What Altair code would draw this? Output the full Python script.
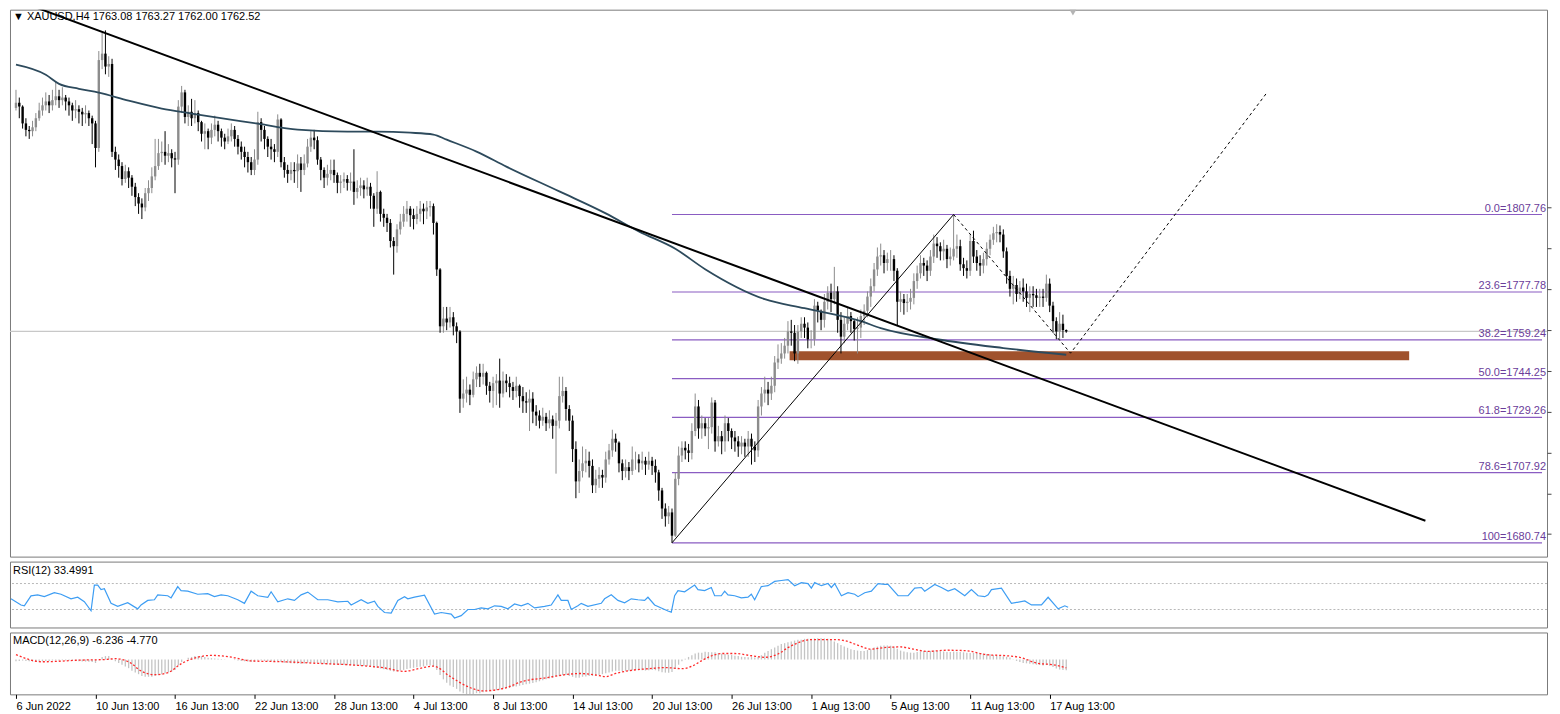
import json
import altair as alt
import pandas as pd

# ---------------- data (XAUUSD H4) ----------------
OPEN_FIRST = 1849.0
close = [
    1851, 1849.5, 1843, 1840.5, 1840, 1841.5, 1845, 1848, 1850, 1851.5,
    1850, 1852, 1853.5, 1852, 1853, 1851.5, 1850, 1848, 1848.5, 1847.5,
    1846.5, 1847, 1845, 1843, 1833.5, 1867.5, 1870, 1865, 1866, 1832,
    1829, 1826.5, 1821.5, 1824.5, 1822, 1818.5, 1814.5, 1812, 1810.5, 1816,
    1818, 1822.5, 1826.5, 1831.5, 1832, 1830.5, 1831.5, 1829.5, 1829, 1849.5,
    1855, 1845.5, 1847.5, 1845, 1847, 1843.5, 1839, 1840, 1837.5, 1840.5,
    1842.5, 1840, 1837.5, 1836, 1838, 1840.5, 1837, 1834, 1832, 1830,
    1828, 1825, 1829, 1843.5, 1840.5, 1837, 1834, 1833, 1832, 1844.5,
    1828, 1825, 1823.5, 1825, 1824.5, 1827.5, 1825, 1827.5, 1834, 1837.5,
    1836.5, 1829, 1825, 1822, 1823.5, 1825, 1823, 1820, 1820.5, 1821.5,
    1820, 1820.5, 1816.5, 1818, 1819, 1817.5, 1818.5, 1815, 1810, 1816.5,
    1808, 1806.5, 1804.5, 1797.5, 1795.5, 1802, 1805, 1808, 1810, 1807.5,
    1806, 1808, 1810, 1809, 1810.5, 1811, 1804.5, 1786.5, 1764.5, 1767.5,
    1766, 1768, 1764.5, 1762.5, 1736.5, 1738.5, 1740, 1738, 1744, 1746.5,
    1745, 1746.5, 1741.5, 1739.5, 1742.5, 1743.5, 1738.5, 1743.5, 1742.5, 1741,
    1739.5, 1741.5, 1737.5, 1735.5, 1735, 1736.5, 1731.5, 1730, 1728, 1729.5,
    1727, 1728.5, 1726, 1728, 1737.5, 1739.5, 1732.5, 1728, 1717, 1704.5,
    1708.5, 1711.5, 1712.5, 1710.5, 1703, 1705.5, 1707, 1706, 1713, 1716.5,
    1721, 1719.5, 1711.5, 1708.5, 1710, 1708.5, 1713, 1713, 1711.5, 1712.5,
    1711, 1712.5, 1710.5, 1708, 1701, 1694, 1691, 1692.5, 1683.5, 1705.5,
    1714.5, 1717.5, 1716.5, 1715.5, 1724, 1733.5, 1725, 1727, 1725, 1725.5,
    1735, 1720, 1722, 1720, 1727, 1724, 1721.5, 1720, 1718, 1719.5,
    1718, 1721, 1718, 1716.5, 1733.5, 1738.5, 1740, 1738.5, 1741.5, 1750.5,
    1752, 1754, 1757, 1762.5, 1762, 1754, 1762.5, 1765.5, 1764, 1759.5,
    1759.5, 1772.5, 1770.5, 1767, 1774, 1777.5, 1775, 1778, 1767, 1760.5,
    1765.5, 1768.5, 1766.5, 1763.5, 1764, 1768.5, 1770.5, 1776, 1780, 1786.5,
    1791.5, 1792, 1789, 1790.5, 1790.5, 1786, 1774, 1775, 1773.5, 1774,
    1775.5, 1782, 1785, 1789, 1788, 1786, 1791.5, 1796.5, 1795.5, 1793.5,
    1794.5, 1790.5, 1791.5, 1794.5, 1795.5, 1788.5, 1787, 1786, 1797.5, 1791.5,
    1789, 1788, 1790.5, 1794.5, 1798, 1800.5, 1801, 1800, 1793.5, 1784,
    1779, 1780.5, 1777, 1779.5, 1778, 1775.5, 1777, 1776.5, 1775.5, 1776,
    1775.5, 1781, 1772.5, 1766.5, 1762.5, 1765.5, 1763.08, 1762.52,
]
high = [
    1856, 1853, 1850, 1845, 1842, 1844, 1847, 1851, 1853, 1855,
    1854, 1856, 1859, 1856, 1857, 1854, 1853, 1851, 1852, 1850,
    1849, 1850, 1848, 1846, 1844, 1871, 1878, 1879, 1869, 1868,
    1834, 1831, 1828, 1827, 1826, 1823, 1820, 1816, 1814, 1818,
    1821, 1826, 1837, 1837, 1836, 1840, 1835, 1833, 1832, 1852,
    1857.5, 1856, 1850, 1852.5, 1852, 1848, 1844, 1843, 1841, 1843,
    1846, 1844, 1841, 1839, 1841, 1843, 1842, 1838.5, 1836, 1834,
    1832, 1830, 1833, 1847.5, 1845, 1842, 1838, 1837, 1835, 1846.5,
    1845, 1830, 1827, 1828, 1828, 1831, 1830, 1831, 1837, 1840,
    1840.5, 1838, 1830, 1826, 1827, 1829, 1829, 1824, 1823, 1824,
    1823, 1824, 1833, 1821, 1822, 1821, 1822, 1820, 1816, 1824.5,
    1817, 1810, 1808, 1806, 1799, 1804, 1808, 1811, 1813, 1811,
    1810, 1811, 1813, 1812, 1813, 1813, 1812, 1805, 1787, 1772,
    1772, 1772, 1770, 1766, 1763, 1744, 1745, 1742, 1747, 1749,
    1750, 1750, 1747, 1743, 1745, 1746, 1752, 1747, 1746, 1745,
    1743, 1745, 1742, 1741, 1739, 1740, 1739, 1734, 1732, 1733,
    1731, 1732, 1730, 1731, 1745, 1745, 1741, 1734, 1730, 1720,
    1713, 1718, 1717, 1716, 1713, 1709, 1710, 1709, 1716, 1719,
    1724.5, 1723, 1720, 1713, 1713, 1712, 1718, 1716, 1715, 1716,
    1714, 1716, 1714, 1713, 1709, 1702, 1696, 1695, 1694, 1708,
    1718, 1720, 1720, 1719, 1727, 1738.5, 1736, 1730, 1729, 1729,
    1737, 1736, 1726, 1724, 1730, 1729, 1725, 1724, 1722, 1722,
    1721, 1724, 1723, 1720, 1736, 1741, 1745, 1743, 1745, 1753,
    1757.5, 1758, 1760, 1766.5, 1767, 1765, 1765, 1768, 1768, 1766,
    1763, 1775, 1774, 1771, 1777, 1780, 1781, 1787.5, 1780, 1770,
    1768, 1772, 1770, 1767, 1768, 1771, 1773, 1778, 1783, 1789,
    1795, 1796.5, 1794, 1793, 1794, 1792, 1787, 1778, 1777, 1777,
    1779, 1785, 1788, 1792, 1791, 1790, 1794, 1800, 1799, 1797,
    1798, 1796, 1795, 1807.76, 1800, 1798, 1791, 1790, 1800, 1801.5,
    1794, 1792, 1793, 1797, 1800, 1803, 1804, 1803.5, 1802, 1795,
    1786, 1784, 1783, 1782, 1783, 1781, 1780, 1780, 1779, 1779,
    1779, 1784.5, 1783, 1774, 1768, 1770, 1769, 1763.27,
]
low = [
    1848, 1845, 1841, 1838, 1837, 1838, 1840, 1844, 1846, 1848,
    1847, 1848, 1850, 1849, 1850, 1848, 1846, 1844, 1845, 1843,
    1842, 1843, 1842, 1835, 1826, 1832, 1864, 1862, 1861, 1830,
    1825, 1822, 1819, 1820, 1818, 1815, 1811, 1808, 1806, 1809,
    1813, 1816, 1821, 1825, 1828, 1827, 1828, 1826, 1816, 1827,
    1847, 1843, 1842, 1842, 1843, 1840, 1836, 1833, 1833, 1835,
    1838, 1836, 1834, 1833, 1835, 1836, 1834, 1831, 1829, 1826,
    1824, 1823, 1823, 1827, 1836, 1833, 1830, 1829, 1828, 1830,
    1826, 1822, 1820, 1821, 1820, 1818, 1816.5, 1823, 1826, 1832,
    1833, 1827, 1821, 1818, 1819, 1821, 1820, 1816, 1816, 1818,
    1817, 1817, 1811.5, 1814, 1815, 1814, 1815, 1810, 1803, 1808,
    1805, 1803, 1801, 1795, 1784.5, 1793, 1800, 1803, 1805, 1803,
    1802, 1804, 1805, 1804, 1806, 1807, 1800, 1784, 1762, 1762,
    1763, 1764, 1761, 1758, 1731, 1733, 1735, 1734, 1737, 1741,
    1741, 1742, 1738, 1735, 1733, 1734, 1733, 1737, 1739, 1737,
    1736, 1737, 1733, 1731, 1731, 1724, 1727, 1726, 1725, 1726,
    1724, 1725, 1721, 1707.5, 1725, 1735, 1728, 1724, 1712, 1698,
    1700, 1706, 1708, 1706, 1700, 1700, 1702, 1702, 1704, 1711,
    1714, 1716, 1708, 1705, 1706, 1705, 1707, 1709, 1708, 1709,
    1707, 1709, 1707, 1704, 1697, 1690, 1687, 1688, 1680.74, 1683,
    1703, 1712, 1713, 1712, 1713, 1722, 1721, 1721, 1722, 1717,
    1723, 1716, 1718, 1715, 1716, 1720, 1717, 1716, 1714, 1715,
    1714, 1714, 1711, 1712, 1714, 1730, 1735, 1734, 1736, 1739,
    1748, 1750, 1752, 1754, 1757, 1751, 1750, 1760, 1760, 1756,
    1756, 1757, 1766, 1763, 1764, 1771, 1770, 1773, 1762, 1754,
    1758, 1763, 1762, 1759, 1754, 1760, 1765, 1768, 1772, 1778,
    1784, 1788, 1785, 1786, 1786, 1782, 1765, 1770, 1769, 1770,
    1771, 1773, 1779, 1783, 1784, 1782, 1784, 1789, 1791, 1790,
    1790, 1787, 1788, 1790, 1791, 1786, 1784, 1783, 1784, 1789,
    1786, 1784, 1785, 1788, 1792, 1796, 1797, 1797, 1791, 1781,
    1776, 1773, 1774, 1775, 1774, 1772, 1770, 1772, 1772, 1772,
    1772, 1774, 1770, 1762, 1759.5, 1759, 1760, 1762.0,
]
macd_main = [
    -1, -0.8, -0.6, -0.8, -1, -1.2, -1.3, -1.2, -1, -0.8,
    -0.8, -0.6, -0.5, -0.5, -0.4, -0.5, -0.6, -0.8, -0.9, -1,
    -1.1, -1.2, -1.3, -1.5, -2, 0, 1.5, 2, 2, 0.5,
    -1, -2, -3, -4, -5, -6.5, -7.5, -8.5, -9.5, -10,
    -10, -10, -9.5, -9, -8.5, -8, -7.5, -7, -6, -3.5,
    -1.5, 0, 1, 1.5, 2, 2, 2, 1.5, 1, 0.8,
    0.6, 0.5, 0.3, 0.2, 0, 0, -0.3, -0.5, -0.8, -1,
    -1.2, -1.4, -1.2, -0.6, -0.6, -0.8, -1, -1.2, -1.3, -1,
    -1.4, -1.8, -2, -2.2, -2.3, -2.4, -2.4, -2.3, -2, -1.8,
    -1.8, -2, -2.3, -2.6, -2.8, -2.9, -3, -3.1, -3.2, -3.2,
    -3.3, -3.3, -3.5, -3.6, -3.7, -3.8, -3.9, -4.2, -4.6, -4.8,
    -5.2, -5.6, -6, -6.5, -7, -6.8, -6.4, -6, -5.5, -5,
    -4.8, -4.5, -4.2, -4, -3.5, -3.5, -4, -6, -9, -11.5,
    -13.5, -15, -16, -17, -18.5, -19.5, -20, -20, -20, -19.5,
    -19.5, -19, -18.5, -18.5, -18, -17.8, -17.5, -17, -16.8, -16.5,
    -16, -15.6, -15.2, -14.8, -14.4, -14, -13.6, -13.2, -12.6, -12,
    -11.5, -11, -10.5, -10, -9.5, -9, -9, -9.5, -10, -10.5,
    -10.5, -10, -9.8, -9.6, -9.5, -9.3, -9, -8.5, -8, -7.5,
    -7, -6.5, -6.5, -6.8, -6.8, -6.5, -6.2, -6, -6, -6.2,
    -6.4, -6.2, -6, -6.2, -6.8, -7.4, -7.6, -7.6, -7.2, -5.5,
    -3, -1, 0.5, 1.5, 2.5, 3.5, 4, 4, 4.5, 4.3,
    4.2, 4.2, 3.8, 3.4, 3.2, 2.8, 2.6, 2.2, 2, 1.6,
    1.4, 1.3, 1.4, 1.2, 1.5, 2.5, 4, 5, 6, 7,
    8, 9, 9.5, 10, 10.5, 11, 11.5, 11.5, 12, 12,
    12, 12.2, 12.4, 12.4, 12.2, 12, 11.5, 10.5, 9.5, 8.5,
    7.5, 6.8, 6, 5.5, 5.2, 5, 5, 5.5, 6, 7,
    7.5, 8, 8.2, 8.2, 8, 7.6, 6.2, 5.2, 4.6, 4.2,
    4, 4, 4.4, 4.8, 5, 5, 5, 5.2, 5, 4.8,
    4.6, 4.4, 4.4, 4.6, 4.5, 4.4, 4.2, 4, 3.8, 3.8,
    3.8, 3.6, 3.4, 3.2, 3, 2.6, 2.2, 2, 1.8, 1.6,
    1.2, 0.2, -0.8, -1.5, -2, -2.2, -2.5, -2.8, -3, -3.2,
    -3.4, -3.2, -3.6, -4.4, -5.2, -5.8, -6, -6.24,
]
sig_idx = [0, 8, 20, 27, 30, 34, 38, 42, 46, 50, 55, 59, 65, 71, 81, 92, 102, 112, 117, 122,
           126, 131, 136, 141, 148, 153, 160, 165, 170, 175, 178, 181, 186, 191, 196, 201, 204,
           207, 210, 213, 217, 222, 226, 230, 233, 236, 240, 247, 250, 254, 258, 262, 267, 271,
           275, 281, 287, 293, 299, 303, 308, 314, 317]
sig_val = [2.8, -1.3, -0.3, 0, 0.5, -1.3, -6.9, -8.8, -7.5, -2.3, 1.4, 2.4, 1.4, -0.8, -1.3,
           -2.3, -3.2, -5.1, -6.9, -5.1, -3.8, -9.8, -15.4, -18.2, -16.3, -12.6, -10.6, -9, -8.1,
           -9, -9.9, -8.1, -6.2, -5.3, -4.7, -5.3, -3.9, -0.6, 2.2, 3.5, 3.5, 2.2, 1.3, 3.2, 6.9,
           9.7, 11.6, 11.6, 11, 8.4, 6, 6.9, 7.3, 6, 4.7, 5.4, 5.1, 2.8, 2.2, 1.3, -2, -3.3, -4.77]
rsi_idx = [0, 3, 4, 6, 8, 10, 13, 15, 18, 20, 22, 24, 25, 26, 27, 28, 30, 32, 35, 38, 39, 41, 43,
           44, 47, 48, 50, 51, 53, 56, 59, 61, 63, 65, 68, 70, 72, 74, 77, 78, 80, 83, 85, 87, 89,
           92, 95, 98, 101, 102, 105, 107, 109, 110, 112, 114, 116, 118, 119, 121, 124, 127, 129,
           132, 133, 135, 137, 139, 141, 143, 145, 147, 149, 151, 153, 155, 157, 160, 162, 164,
           165, 167, 168, 170, 171, 173, 177, 178, 180, 182, 184, 186, 188, 190, 191, 193, 195,
           197, 198, 199, 200, 202, 205, 206, 208, 210, 211, 213, 214, 215, 217, 219, 221, 222,
           223, 225, 227, 229, 231, 233, 235, 237, 239, 240, 241, 243, 245, 246, 247, 249, 251,
           253, 254, 256, 258, 260, 262, 263, 266, 269, 271, 273, 274, 277, 279, 281, 283, 286,
           288, 290, 292, 293, 294, 297, 300, 304, 306, 309, 311, 314, 316, 317]
rsi_val = [46.5, 37, 35.7, 51, 52.6, 49.8, 56, 53.5, 46.5, 49, 42, 28, 67.6, 67.6, 60.6, 62, 39.5,
           34.8, 40.4, 31, 37, 44, 45, 52.6, 51.2, 47.9, 65.3, 59.2, 58.3, 53.5, 54.5, 49.8, 52.6,
           51.2, 45, 39.5, 58.3, 51.2, 48.9, 57.3, 41.8, 46.5, 44, 52.6, 56.8, 45, 45, 41.8, 42.7,
           37, 45, 39.5, 42.7, 34.8, 25.4, 24.4, 44, 49.8, 46.5, 49, 52, 23, 25.4, 23, 17, 20.6,
           30, 30, 32.4, 31, 35.7, 34.8, 31, 38.5, 35.7, 39.5, 32.4, 34.8, 37, 52.6, 44, 44, 30,
           35.7, 39.5, 34.8, 39.5, 46.5, 52.6, 44, 40.4, 46.5, 45, 44, 48.9, 37, 32.4, 27.7, 26,
           51.2, 59.2, 57.3, 67.6, 60.6, 59.2, 63.9, 51.2, 51.2, 58.3, 52.6, 51.2, 47.9, 49, 53.5,
           45, 65.3, 66.7, 73.3, 74.7, 76.1, 66.7, 71.4, 70, 62.9, 71.4, 66.7, 70, 63.9, 70, 51.2,
           55.9, 53.5, 49.8, 55.9, 58.3, 70, 68.6, 68.6, 51.2, 51.2, 62.9, 63.9, 58.3, 68.6, 63.9,
           58.3, 62, 51.2, 60.6, 51.2, 49.8, 52.6, 60.6, 62.9, 39.5, 43.2, 37, 37, 48.9, 31, 35.7,
           33.5]
ma_idx = [0, 9, 13, 19, 25, 34, 44, 53, 73, 85, 100, 109, 119, 126, 130, 139, 148, 164, 178,
          188, 199, 208, 226, 238, 255, 261, 278, 298, 317]
ma_val = [1865.7, 1861.8, 1858.3, 1856.4, 1854.9, 1851.8, 1848.7, 1846.8, 1842.9, 1840.6,
          1839.8, 1839.8, 1839.4, 1838.7, 1836.7, 1832.1, 1826.3, 1816.7, 1808.2, 1801.2,
          1794.5, 1786.6, 1775.0, 1771.5, 1766.5, 1763.8, 1759.5, 1756.1, 1753.5]
fib_pct = ["0.0", "23.6", "38.2", "50.0", "61.8", "78.6", "100"]
fib_price = [1807.76, 1777.78, 1759.24, 1744.25, 1729.26, 1707.92, 1680.74]
fib_start = 198
trend_idx = [3.2, 425.4]
trend_price = [1889.2, 1689.3]
fib_diag_idx = [198, 283]
fib_diag_price = [1680.74, 1807.76]
proj_idx = [283, 318.3, 377.8]
proj_price = [1807.76, 1754.1, 1855.3]
zone_idx = [233.5, 420.5]
zone_price = [1751.4, 1754.9]
last_price = 1762.52
price_ticks = [1810.5, 1794.7, 1778.9, 1763.1, 1747.3, 1731.5, 1715.7, 1699.9, 1684.1]
tick_idx = [0, 24, 48, 72, 96, 120, 144, 168, 192, 216, 240, 264, 288, 312]
tick_labels = ["6 Jun 2022", "10 Jun 13:00", "16 Jun 13:00", "22 Jun 13:00", "28 Jun 13:00",
               "4 Jul 13:00", "8 Jul 13:00", "14 Jul 13:00", "20 Jul 13:00", "26 Jul 13:00",
               "1 Aug 13:00", "5 Aug 13:00", "11 Aug 13:00", "17 Aug 13:00"]
header = "\u25BC XAUUSD,H4  1763.08 1763.27 1762.00 1762.52"
rsi_title = "RSI(12) 33.4991"
macd_title = "MACD(12,26,9) -6.236 -4.770"

# ---------------- tables ----------------
n = len(close)
opens = [OPEN_FIRST] + close[:-1]
bars = pd.DataFrame({"i": list(range(n)), "o": opens, "h": high, "l": low, "c": close})
bars["dir"] = ["up" if c >= o else "down" for o, c in zip(opens, close)]
macd_df = pd.DataFrame({"i": list(range(len(macd_main))), "m": macd_main, "z": [0.0] * len(macd_main)})
sig_df = pd.DataFrame({"i": sig_idx, "v": sig_val})
rsi_df = pd.DataFrame({"i": rsi_idx, "v": rsi_val})
ma_df = pd.DataFrame({"i": ma_idx, "p": ma_val})

W = 1540
XMIN, XMAX = -0.3, 460.6
FONT = "Liberation Sans"
xs = alt.Scale(domain=[XMIN, XMAX], nice=False, zero=False)
ys = alt.Scale(domain=[1675.4, 1887.0], nice=False, zero=False)
yax = alt.Axis(orient="right", values=price_ticks, labels=False, ticks=True, tickSize=4,
               domain=False, grid=False, title=None, tickColor="#444444")

fib_df = pd.DataFrame({"x0": [fib_start] * len(fib_price), "x1": [XMAX] * len(fib_price),
                       "p": fib_price,
                       "lab": [f"{a}={b:.2f}" for a, b in zip(fib_pct, fib_price)]})

X = lambda f: alt.X(f, scale=xs, axis=None)
Y = lambda f: alt.Y(f, scale=ys, axis=yax)

cur = alt.Chart(pd.DataFrame({"p": [last_price]})).mark_rule(color="#c8c8c8", strokeWidth=1.2).encode(y=Y("p:Q"))
zone = alt.Chart(pd.DataFrame({"x0": [zone_idx[0]], "x1": [zone_idx[1]], "p0": [zone_price[0]], "p1": [zone_price[1]]})).mark_rect(
    color="#a0522d").encode(x=X("x0:Q"), x2="x1:Q", y=Y("p0:Q"), y2="p1:Q")
fibl = alt.Chart(fib_df).mark_rule(color="#8a5cc2", strokeWidth=1.2).encode(x=X("x0:Q"), x2="x1:Q", y=Y("p:Q"))
fibt = alt.Chart(fib_df).mark_text(align="right", baseline="bottom", dy=-1, fontSize=11, font=FONT,
                                   color="#6a3d9a").encode(x=alt.value(W - 1), y=Y("p:Q"), text="lab:N")
col = alt.Color("dir:N", scale=alt.Scale(domain=["up", "down"], range=["#8c8c8c", "#000000"]), legend=None)
wick = alt.Chart(bars).mark_rule(strokeWidth=1).encode(x=X("i:Q"), y=Y("l:Q"), y2="h:Q", color=col)
body = alt.Chart(bars).mark_bar(size=2.4).encode(x=X("i:Q"), y=Y("o:Q"), y2="c:Q", color=col)
ma = alt.Chart(ma_df).mark_line(color="#2d4a5c", strokeWidth=1.8, interpolate="monotone").encode(x=X("i:Q"), y=Y("p:Q"))
trend = alt.Chart(pd.DataFrame({"i": trend_idx, "p": trend_price})).mark_line(
    color="#000000", strokeWidth=2, clip=True).encode(x=X("i:Q"), y=Y("p:Q"))
diag = alt.Chart(pd.DataFrame({"i": fib_diag_idx, "p": fib_diag_price})).mark_line(
    color="#000000", strokeWidth=1).encode(x=X("i:Q"), y=Y("p:Q"))
proj = alt.Chart(pd.DataFrame({"i": proj_idx, "p": proj_price})).mark_line(
    color="#000000", strokeWidth=1, strokeDash=[3, 3]).encode(x=X("i:Q"), y=Y("p:Q"))
head = alt.Chart(pd.DataFrame({"t": [header]})).mark_text(
    align="left", baseline="middle", fontSize=11, font=FONT, color="#000000").encode(
    x=alt.value(3), y=alt.value(7), text="t:N")
shift = alt.Chart(pd.DataFrame({"t": [1]})).mark_point(
    shape="triangle-down", filled=True, size=45, color="#b4b4b4", opacity=1).encode(x=alt.value(1065), y=alt.value(3))

main = alt.layer(cur, zone, fibl, wick, body, ma, trend, diag, proj, fibt, head, shift).properties(width=W, height=548)

# RSI panel
rys = alt.Scale(domain=[2.3, 103.8], nice=False, zero=False)
lev = alt.Chart(pd.DataFrame({"v": [70, 30]})).mark_rule(color="#b8b8b8", strokeDash=[2, 2], strokeWidth=1).encode(
    y=alt.Y("v:Q", scale=rys, axis=None))
rline = alt.Chart(rsi_df).mark_line(color="#3d9df3", strokeWidth=1.2).encode(
    x=X("i:Q"), y=alt.Y("v:Q", scale=rys, axis=None))
rtxt = alt.Chart(pd.DataFrame({"t": [rsi_title]})).mark_text(
    align="left", baseline="middle", fontSize=11, font=FONT, color="#000000").encode(
    x=alt.value(3), y=alt.value(9), text="t:N")
rsi = alt.layer(lev, rline, rtxt).properties(width=W, height=66)

# MACD panel
mys = alt.Scale(domain=[-20.2, 15.7], nice=False, zero=False)
label_expr = json.dumps(tick_labels) + "[round(datum.value/24)]"
xax = alt.Axis(values=tick_idx, labelExpr=label_expr, labelAlign="left", labelPadding=2, tickSize=4,
               domain=False, grid=False, title=None, labelFontSize=11, labelFont=FONT, labelColor="#000000",
               tickColor="#000000", labelOverlap=False, labelFlush=False)
hist = alt.Chart(macd_df).mark_bar(size=1.3, color="#c4c4c4").encode(
    x=alt.X("i:Q", scale=xs, axis=xax), y=alt.Y("m:Q", scale=mys, axis=None), y2="z:Q")
sig = alt.Chart(sig_df).mark_line(color="#ff2a2a", strokeWidth=1.3, strokeDash=[2, 2], interpolate="monotone").encode(
    x=alt.X("i:Q", scale=xs, axis=xax), y=alt.Y("v:Q", scale=mys, axis=None))
mtxt = alt.Chart(pd.DataFrame({"t": [macd_title]})).mark_text(
    align="left", baseline="middle", fontSize=11, font=FONT, color="#000000").encode(
    x=alt.value(3), y=alt.value(9), text="t:N")
macd = alt.layer(hist, sig, mtxt).properties(width=W, height=62)

chart = alt.vconcat(main, rsi, macd, spacing=3).properties(
    padding={"left": 0, "top": 0, "right": 0, "bottom": 0}, background="white"
).configure_view(stroke="#7a7a7a", strokeWidth=1)

chart.save("out.html", embed_options={"renderer": "svg", "actions": False})
